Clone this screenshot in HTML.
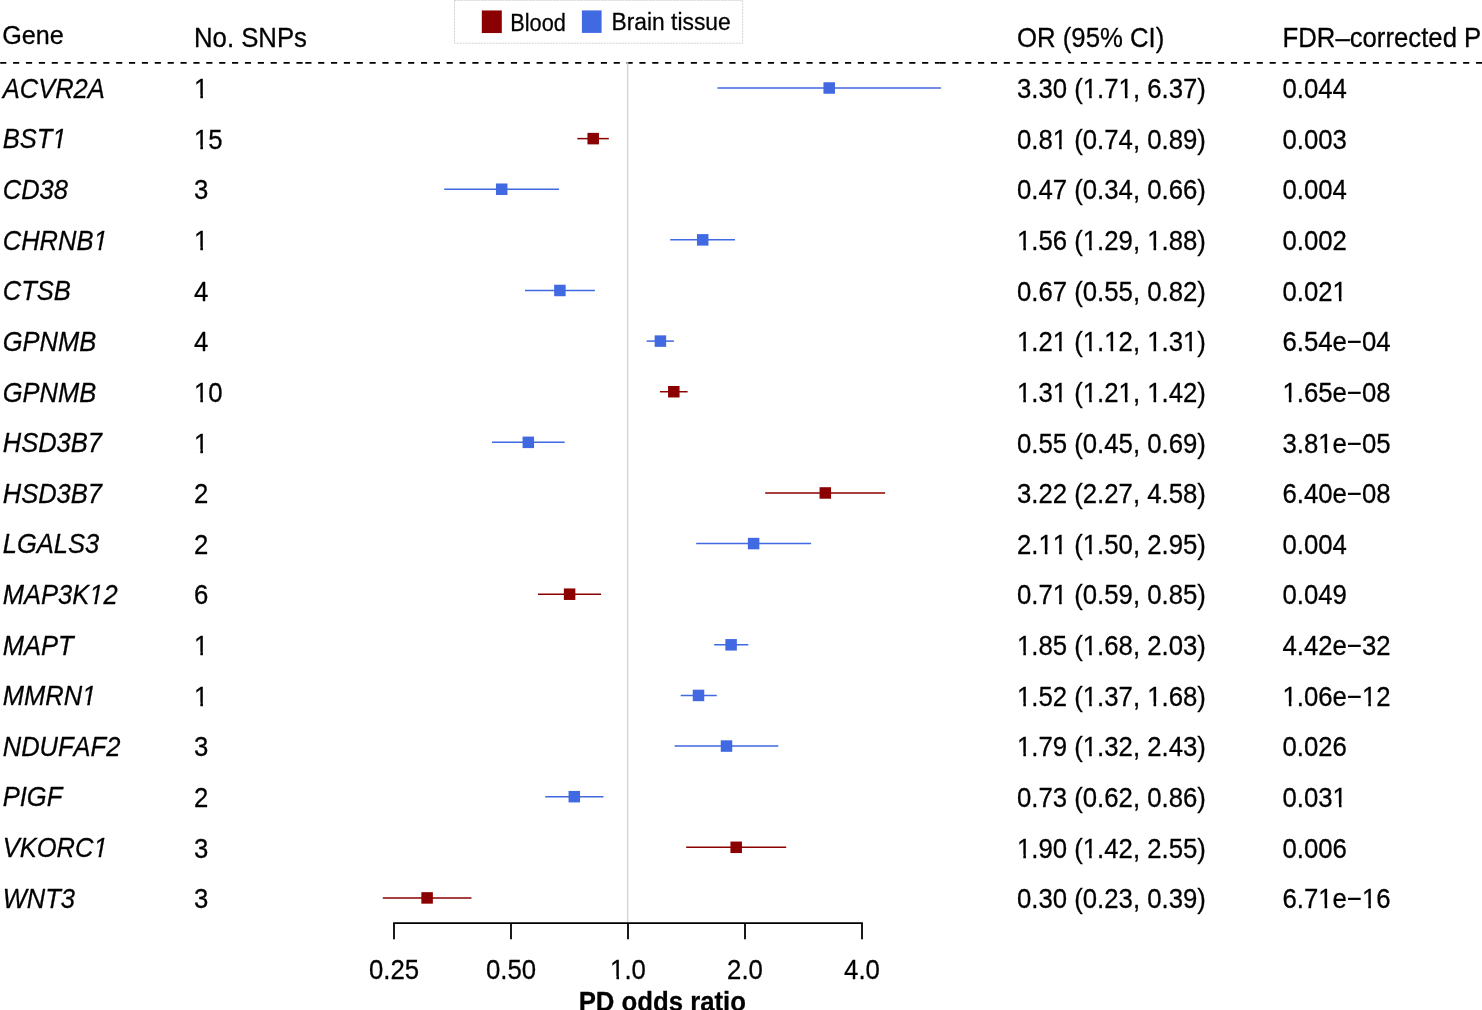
<!DOCTYPE html><html><head><meta charset="utf-8"><style>
html,body{margin:0;padding:0;background:#fff;width:1482px;height:1010px;overflow:hidden}
svg{display:block}
text{font-family:"Liberation Sans",sans-serif;fill:#000;font-kerning:none}
.tx{opacity:0.999}
.tx text{stroke:#000;stroke-width:0.28px;stroke-linejoin:round}
.t{font-size:26px}
.i{font-size:26px;font-style:italic}
.lg{font-size:23.5px}
.b{font-size:26px;font-weight:bold}
</style></head><body>
<svg width="1482" height="1010" viewBox="0 0 1482 1010">
<rect x="0" y="0" width="1482" height="1010" fill="#fff"/>
<rect x="454.5" y="0.4" width="288.2" height="42.8" fill="none" stroke="#d2d2d2" stroke-width="1" stroke-dasharray="2 1"/>
<rect x="481.8" y="10.45" width="20" height="22.6" fill="#8B0000"/>
<rect x="581.9" y="10.4" width="19.7" height="22.5" fill="#4169E1"/>
<line x1="0.20" y1="62.85" x2="305.30" y2="62.85" stroke="#000" stroke-width="1.9" stroke-dasharray="6.15 6.73"/>
<line x1="305.30" y1="62.85" x2="939.50" y2="62.85" stroke="#000" stroke-width="1.9" stroke-dasharray="6.15 6.70"/>
<line x1="939.50" y1="62.85" x2="1205.10" y2="62.85" stroke="#000" stroke-width="1.9" stroke-dasharray="6.15 6.70"/>
<line x1="1205.10" y1="62.85" x2="1482.00" y2="62.85" stroke="#000" stroke-width="1.9" stroke-dasharray="6.15 6.75"/>
<line x1="627.7" y1="62" x2="627.7" y2="922.3" stroke="#cecece" stroke-width="1.2"/>
<line x1="717.50" y1="88.00" x2="940.90" y2="88.00" stroke="#4169E1" stroke-width="1.50"/>
<rect x="823.45" y="82.25" width="11.50" height="11.50" fill="#4169E1"/>
<line x1="577.30" y1="138.62" x2="608.80" y2="138.62" stroke="#8B0000" stroke-width="1.50"/>
<rect x="587.45" y="132.87" width="11.50" height="11.50" fill="#8B0000"/>
<line x1="444.20" y1="189.24" x2="559.00" y2="189.24" stroke="#4169E1" stroke-width="1.50"/>
<rect x="495.95" y="183.49" width="11.50" height="11.50" fill="#4169E1"/>
<line x1="670.20" y1="239.86" x2="735.00" y2="239.86" stroke="#4169E1" stroke-width="1.50"/>
<rect x="696.95" y="234.11" width="11.50" height="11.50" fill="#4169E1"/>
<line x1="525.00" y1="290.48" x2="594.90" y2="290.48" stroke="#4169E1" stroke-width="1.50"/>
<rect x="554.15" y="284.73" width="11.50" height="11.50" fill="#4169E1"/>
<line x1="646.60" y1="341.10" x2="673.90" y2="341.10" stroke="#4169E1" stroke-width="1.50"/>
<rect x="654.65" y="335.35" width="11.50" height="11.50" fill="#4169E1"/>
<line x1="659.90" y1="391.72" x2="687.60" y2="391.72" stroke="#8B0000" stroke-width="1.50"/>
<rect x="668.05" y="385.97" width="11.50" height="11.50" fill="#8B0000"/>
<line x1="492.00" y1="442.34" x2="564.70" y2="442.34" stroke="#4169E1" stroke-width="1.50"/>
<rect x="522.55" y="436.59" width="11.50" height="11.50" fill="#4169E1"/>
<line x1="765.20" y1="492.96" x2="885.10" y2="492.96" stroke="#8B0000" stroke-width="1.50"/>
<rect x="819.55" y="487.21" width="11.50" height="11.50" fill="#8B0000"/>
<line x1="696.20" y1="543.58" x2="811.10" y2="543.58" stroke="#4169E1" stroke-width="1.50"/>
<rect x="747.85" y="537.83" width="11.50" height="11.50" fill="#4169E1"/>
<line x1="538.00" y1="594.20" x2="601.10" y2="594.20" stroke="#8B0000" stroke-width="1.50"/>
<rect x="563.85" y="588.45" width="11.50" height="11.50" fill="#8B0000"/>
<line x1="714.20" y1="644.82" x2="748.30" y2="644.82" stroke="#4169E1" stroke-width="1.50"/>
<rect x="725.35" y="639.07" width="11.50" height="11.50" fill="#4169E1"/>
<line x1="680.70" y1="695.44" x2="716.75" y2="695.44" stroke="#4169E1" stroke-width="1.50"/>
<rect x="692.75" y="689.69" width="11.50" height="11.50" fill="#4169E1"/>
<line x1="674.60" y1="746.06" x2="778.30" y2="746.06" stroke="#4169E1" stroke-width="1.50"/>
<rect x="720.75" y="740.31" width="11.50" height="11.50" fill="#4169E1"/>
<line x1="545.20" y1="796.68" x2="603.50" y2="796.68" stroke="#4169E1" stroke-width="1.50"/>
<rect x="568.55" y="790.93" width="11.50" height="11.50" fill="#4169E1"/>
<line x1="686.20" y1="847.30" x2="786.20" y2="847.30" stroke="#8B0000" stroke-width="1.50"/>
<rect x="730.45" y="841.55" width="11.50" height="11.50" fill="#8B0000"/>
<line x1="382.80" y1="897.92" x2="471.50" y2="897.92" stroke="#8B0000" stroke-width="1.50"/>
<rect x="421.35" y="892.17" width="11.50" height="11.50" fill="#8B0000"/>
<line x1="394.00" y1="923.20" x2="862.00" y2="923.20" stroke="#000" stroke-width="1.8" stroke-linecap="square"/>
<line x1="394.00" y1="923.20" x2="394.00" y2="939.2" stroke="#000" stroke-width="1.8"/>
<line x1="511.00" y1="923.20" x2="511.00" y2="939.2" stroke="#000" stroke-width="1.8"/>
<line x1="628.00" y1="923.20" x2="628.00" y2="939.2" stroke="#000" stroke-width="1.8"/>
<line x1="745.00" y1="923.20" x2="745.00" y2="939.2" stroke="#000" stroke-width="1.8"/>
<line x1="862.00" y1="923.20" x2="862.00" y2="939.2" stroke="#000" stroke-width="1.8"/>
<g class="tx">
<text class="lg" transform="translate(510.31 30.60) scale(0.9250 0.9850)">Blood</text>
<text class="lg" transform="translate(611.53 30.40) scale(0.9710 0.9850)">Brain tissue</text>
<text class="t" transform="translate(2.23 44.10) scale(0.9680 1.0000)">Gene</text>
<text class="t" transform="translate(194.00 46.85) scale(0.9900 1.0436)">No. SNPs</text>
<text class="t" transform="translate(1017.00 46.85) scale(0.9900 1.0436)">OR (95% CI)</text>
<text class="t" transform="translate(1282.50 46.85) scale(0.9900 1.0436)">FDR–corrected P</text>
<text class="i" transform="translate(2.70 97.80) scale(0.9820 1.0436)">ACVR2A</text>
<text class="t" transform="translate(194.00 98.25) scale(0.9900 1.0436)">1</text>
<text class="t" transform="translate(1017.00 98.25) scale(0.9900 1.0436)">3.30 (1.71, 6.37)</text>
<text class="t" transform="translate(1282.50 98.25) scale(0.9900 1.0436)">0.044</text>
<text class="i" transform="translate(2.70 148.42) scale(0.9820 1.0436)">BST1</text>
<text class="t" transform="translate(194.00 148.87) scale(0.9900 1.0436)">15</text>
<text class="t" transform="translate(1017.00 148.87) scale(0.9900 1.0436)">0.81 (0.74, 0.89)</text>
<text class="t" transform="translate(1282.50 148.87) scale(0.9900 1.0436)">0.003</text>
<text class="i" transform="translate(2.70 199.04) scale(0.9820 1.0436)">CD38</text>
<text class="t" transform="translate(194.00 199.49) scale(0.9900 1.0436)">3</text>
<text class="t" transform="translate(1017.00 199.49) scale(0.9900 1.0436)">0.47 (0.34, 0.66)</text>
<text class="t" transform="translate(1282.50 199.49) scale(0.9900 1.0436)">0.004</text>
<text class="i" transform="translate(2.70 249.66) scale(0.9820 1.0436)">CHRNB1</text>
<text class="t" transform="translate(194.00 250.11) scale(0.9900 1.0436)">1</text>
<text class="t" transform="translate(1017.00 250.11) scale(0.9900 1.0436)">1.56 (1.29, 1.88)</text>
<text class="t" transform="translate(1282.50 250.11) scale(0.9900 1.0436)">0.002</text>
<text class="i" transform="translate(2.70 300.28) scale(0.9820 1.0436)">CTSB</text>
<text class="t" transform="translate(194.00 300.73) scale(0.9900 1.0436)">4</text>
<text class="t" transform="translate(1017.00 300.73) scale(0.9900 1.0436)">0.67 (0.55, 0.82)</text>
<text class="t" transform="translate(1282.50 300.73) scale(0.9900 1.0436)">0.021</text>
<text class="i" transform="translate(2.70 350.90) scale(0.9820 1.0436)">GPNMB</text>
<text class="t" transform="translate(194.00 351.35) scale(0.9900 1.0436)">4</text>
<text class="t" transform="translate(1017.00 351.35) scale(0.9900 1.0436)">1.21 (1.12, 1.31)</text>
<text class="t" transform="translate(1282.50 351.35) scale(0.9900 1.0436)">6.54e−04</text>
<text class="i" transform="translate(2.70 401.52) scale(0.9820 1.0436)">GPNMB</text>
<text class="t" transform="translate(194.00 401.97) scale(0.9900 1.0436)">10</text>
<text class="t" transform="translate(1017.00 401.97) scale(0.9900 1.0436)">1.31 (1.21, 1.42)</text>
<text class="t" transform="translate(1282.50 401.97) scale(0.9900 1.0436)">1.65e−08</text>
<text class="i" transform="translate(2.70 452.14) scale(0.9820 1.0436)">HSD3B7</text>
<text class="t" transform="translate(194.00 452.59) scale(0.9900 1.0436)">1</text>
<text class="t" transform="translate(1017.00 452.59) scale(0.9900 1.0436)">0.55 (0.45, 0.69)</text>
<text class="t" transform="translate(1282.50 452.59) scale(0.9900 1.0436)">3.81e−05</text>
<text class="i" transform="translate(2.70 502.76) scale(0.9820 1.0436)">HSD3B7</text>
<text class="t" transform="translate(194.00 503.21) scale(0.9900 1.0436)">2</text>
<text class="t" transform="translate(1017.00 503.21) scale(0.9900 1.0436)">3.22 (2.27, 4.58)</text>
<text class="t" transform="translate(1282.50 503.21) scale(0.9900 1.0436)">6.40e−08</text>
<text class="i" transform="translate(2.70 553.38) scale(0.9820 1.0436)">LGALS3</text>
<text class="t" transform="translate(194.00 553.83) scale(0.9900 1.0436)">2</text>
<text class="t" transform="translate(1017.00 553.83) scale(0.9900 1.0436)">2.11 (1.50, 2.95)</text>
<text class="t" transform="translate(1282.50 553.83) scale(0.9900 1.0436)">0.004</text>
<text class="i" transform="translate(2.70 604.00) scale(0.9820 1.0436)">MAP3K12</text>
<text class="t" transform="translate(194.00 604.45) scale(0.9900 1.0436)">6</text>
<text class="t" transform="translate(1017.00 604.45) scale(0.9900 1.0436)">0.71 (0.59, 0.85)</text>
<text class="t" transform="translate(1282.50 604.45) scale(0.9900 1.0436)">0.049</text>
<text class="i" transform="translate(2.70 654.62) scale(0.9820 1.0436)">MAPT</text>
<text class="t" transform="translate(194.00 655.07) scale(0.9900 1.0436)">1</text>
<text class="t" transform="translate(1017.00 655.07) scale(0.9900 1.0436)">1.85 (1.68, 2.03)</text>
<text class="t" transform="translate(1282.50 655.07) scale(0.9900 1.0436)">4.42e−32</text>
<text class="i" transform="translate(2.70 705.24) scale(0.9820 1.0436)">MMRN1</text>
<text class="t" transform="translate(194.00 705.69) scale(0.9900 1.0436)">1</text>
<text class="t" transform="translate(1017.00 705.69) scale(0.9900 1.0436)">1.52 (1.37, 1.68)</text>
<text class="t" transform="translate(1282.50 705.69) scale(0.9900 1.0436)">1.06e−12</text>
<text class="i" transform="translate(2.70 755.86) scale(0.9820 1.0436)">NDUFAF2</text>
<text class="t" transform="translate(194.00 756.31) scale(0.9900 1.0436)">3</text>
<text class="t" transform="translate(1017.00 756.31) scale(0.9900 1.0436)">1.79 (1.32, 2.43)</text>
<text class="t" transform="translate(1282.50 756.31) scale(0.9900 1.0436)">0.026</text>
<text class="i" transform="translate(2.70 806.48) scale(0.9820 1.0436)">PIGF</text>
<text class="t" transform="translate(194.00 806.93) scale(0.9900 1.0436)">2</text>
<text class="t" transform="translate(1017.00 806.93) scale(0.9900 1.0436)">0.73 (0.62, 0.86)</text>
<text class="t" transform="translate(1282.50 806.93) scale(0.9900 1.0436)">0.031</text>
<text class="i" transform="translate(2.70 857.10) scale(0.9820 1.0436)">VKORC1</text>
<text class="t" transform="translate(194.00 857.55) scale(0.9900 1.0436)">3</text>
<text class="t" transform="translate(1017.00 857.55) scale(0.9900 1.0436)">1.90 (1.42, 2.55)</text>
<text class="t" transform="translate(1282.50 857.55) scale(0.9900 1.0436)">0.006</text>
<text class="i" transform="translate(2.70 907.72) scale(0.9820 1.0436)">WNT3</text>
<text class="t" transform="translate(194.00 908.17) scale(0.9900 1.0436)">3</text>
<text class="t" transform="translate(1017.00 908.17) scale(0.9900 1.0436)">0.30 (0.23, 0.39)</text>
<text class="t" transform="translate(1282.50 908.17) scale(0.9900 1.0436)">6.71e−16</text>
<text class="t" transform="translate(394.00 979.40) scale(0.9900 1.0436)" text-anchor="middle">0.25</text>
<text class="t" transform="translate(511.00 979.40) scale(0.9900 1.0436)" text-anchor="middle">0.50</text>
<text class="t" transform="translate(628.00 979.40) scale(0.9900 1.0436)" text-anchor="middle">1.0</text>
<text class="t" transform="translate(745.00 979.40) scale(0.9900 1.0436)" text-anchor="middle">2.0</text>
<text class="t" transform="translate(862.00 979.40) scale(0.9900 1.0436)" text-anchor="middle">4.0</text>
<text class="b" transform="translate(662.30 1010.70) scale(0.9900 1.0436)" text-anchor="middle">PD odds ratio</text>
</g>
<polygon transform="translate(194.00 98.25) scale(0.9900 1.0436)" points="0.57,1.27 6.41,1.27 6.41,-3.36 0.57,-3.36" fill="#fff"/>
<polygon transform="translate(194.00 98.25) scale(0.9900 1.0436)" points="9.01,1.27 14.60,1.27 14.60,-3.36 9.01,-3.36" fill="#fff"/>
<polygon transform="translate(1017.00 98.25) scale(0.9900 1.0436)" points="67.06,1.27 72.90,1.27 72.90,-3.36 67.06,-3.36" fill="#fff"/>
<polygon transform="translate(1017.00 98.25) scale(0.9900 1.0436)" points="75.50,1.27 81.08,1.27 81.08,-3.36 75.50,-3.36" fill="#fff"/>
<polygon transform="translate(1017.00 98.25) scale(0.9900 1.0436)" points="103.20,1.27 109.04,1.27 109.04,-3.36 103.20,-3.36" fill="#fff"/>
<polygon transform="translate(1017.00 98.25) scale(0.9900 1.0436)" points="111.64,1.27 117.23,1.27 117.23,-3.36 111.64,-3.36" fill="#fff"/>
<polygon transform="translate(2.70 148.42) scale(0.9820 1.0436)" points="49.53,1.27 55.40,1.27 56.30,-3.36 50.44,-3.36" fill="#fff"/>
<polygon transform="translate(2.70 148.42) scale(0.9820 1.0436)" points="58.00,1.27 63.66,1.27 64.57,-3.36 58.90,-3.36" fill="#fff"/>
<polygon transform="translate(194.00 148.87) scale(0.9900 1.0436)" points="0.57,1.27 6.41,1.27 6.41,-3.36 0.57,-3.36" fill="#fff"/>
<polygon transform="translate(194.00 148.87) scale(0.9900 1.0436)" points="9.01,1.27 14.60,1.27 14.60,-3.36 9.01,-3.36" fill="#fff"/>
<polygon transform="translate(1017.00 148.87) scale(0.9900 1.0436)" points="36.71,1.27 42.55,1.27 42.55,-3.36 36.71,-3.36" fill="#fff"/>
<polygon transform="translate(1017.00 148.87) scale(0.9900 1.0436)" points="45.16,1.27 50.74,1.27 50.74,-3.36 45.16,-3.36" fill="#fff"/>
<polygon transform="translate(2.70 249.66) scale(0.9820 1.0436)" points="91.41,1.27 97.28,1.27 98.18,-3.36 92.32,-3.36" fill="#fff"/>
<polygon transform="translate(2.70 249.66) scale(0.9820 1.0436)" points="99.88,1.27 105.54,1.27 106.45,-3.36 100.79,-3.36" fill="#fff"/>
<polygon transform="translate(194.00 250.11) scale(0.9900 1.0436)" points="0.57,1.27 6.41,1.27 6.41,-3.36 0.57,-3.36" fill="#fff"/>
<polygon transform="translate(194.00 250.11) scale(0.9900 1.0436)" points="9.01,1.27 14.60,1.27 14.60,-3.36 9.01,-3.36" fill="#fff"/>
<polygon transform="translate(1017.00 250.11) scale(0.9900 1.0436)" points="0.57,1.27 6.41,1.27 6.41,-3.36 0.57,-3.36" fill="#fff"/>
<polygon transform="translate(1017.00 250.11) scale(0.9900 1.0436)" points="9.01,1.27 14.60,1.27 14.60,-3.36 9.01,-3.36" fill="#fff"/>
<polygon transform="translate(1017.00 250.11) scale(0.9900 1.0436)" points="67.06,1.27 72.90,1.27 72.90,-3.36 67.06,-3.36" fill="#fff"/>
<polygon transform="translate(1017.00 250.11) scale(0.9900 1.0436)" points="75.50,1.27 81.08,1.27 81.08,-3.36 75.50,-3.36" fill="#fff"/>
<polygon transform="translate(1017.00 250.11) scale(0.9900 1.0436)" points="132.11,1.27 137.95,1.27 137.95,-3.36 132.11,-3.36" fill="#fff"/>
<polygon transform="translate(1017.00 250.11) scale(0.9900 1.0436)" points="140.55,1.27 146.14,1.27 146.14,-3.36 140.55,-3.36" fill="#fff"/>
<polygon transform="translate(1282.50 300.73) scale(0.9900 1.0436)" points="51.17,1.27 57.01,1.27 57.01,-3.36 51.17,-3.36" fill="#fff"/>
<polygon transform="translate(1282.50 300.73) scale(0.9900 1.0436)" points="59.62,1.27 65.20,1.27 65.20,-3.36 59.62,-3.36" fill="#fff"/>
<polygon transform="translate(1017.00 351.35) scale(0.9900 1.0436)" points="0.57,1.27 6.41,1.27 6.41,-3.36 0.57,-3.36" fill="#fff"/>
<polygon transform="translate(1017.00 351.35) scale(0.9900 1.0436)" points="9.01,1.27 14.60,1.27 14.60,-3.36 9.01,-3.36" fill="#fff"/>
<polygon transform="translate(1017.00 351.35) scale(0.9900 1.0436)" points="36.71,1.27 42.55,1.27 42.55,-3.36 36.71,-3.36" fill="#fff"/>
<polygon transform="translate(1017.00 351.35) scale(0.9900 1.0436)" points="45.16,1.27 50.74,1.27 50.74,-3.36 45.16,-3.36" fill="#fff"/>
<polygon transform="translate(1017.00 351.35) scale(0.9900 1.0436)" points="67.06,1.27 72.90,1.27 72.90,-3.36 67.06,-3.36" fill="#fff"/>
<polygon transform="translate(1017.00 351.35) scale(0.9900 1.0436)" points="75.50,1.27 81.08,1.27 81.08,-3.36 75.50,-3.36" fill="#fff"/>
<polygon transform="translate(1017.00 351.35) scale(0.9900 1.0436)" points="88.74,1.27 94.58,1.27 94.58,-3.36 88.74,-3.36" fill="#fff"/>
<polygon transform="translate(1017.00 351.35) scale(0.9900 1.0436)" points="97.18,1.27 102.77,1.27 102.77,-3.36 97.18,-3.36" fill="#fff"/>
<polygon transform="translate(1017.00 351.35) scale(0.9900 1.0436)" points="132.11,1.27 137.95,1.27 137.95,-3.36 132.11,-3.36" fill="#fff"/>
<polygon transform="translate(1017.00 351.35) scale(0.9900 1.0436)" points="140.55,1.27 146.14,1.27 146.14,-3.36 140.55,-3.36" fill="#fff"/>
<polygon transform="translate(1017.00 351.35) scale(0.9900 1.0436)" points="168.25,1.27 174.09,1.27 174.09,-3.36 168.25,-3.36" fill="#fff"/>
<polygon transform="translate(1017.00 351.35) scale(0.9900 1.0436)" points="176.69,1.27 182.28,1.27 182.28,-3.36 176.69,-3.36" fill="#fff"/>
<polygon transform="translate(194.00 401.97) scale(0.9900 1.0436)" points="0.57,1.27 6.41,1.27 6.41,-3.36 0.57,-3.36" fill="#fff"/>
<polygon transform="translate(194.00 401.97) scale(0.9900 1.0436)" points="9.01,1.27 14.60,1.27 14.60,-3.36 9.01,-3.36" fill="#fff"/>
<polygon transform="translate(1017.00 401.97) scale(0.9900 1.0436)" points="0.57,1.27 6.41,1.27 6.41,-3.36 0.57,-3.36" fill="#fff"/>
<polygon transform="translate(1017.00 401.97) scale(0.9900 1.0436)" points="9.01,1.27 14.60,1.27 14.60,-3.36 9.01,-3.36" fill="#fff"/>
<polygon transform="translate(1017.00 401.97) scale(0.9900 1.0436)" points="36.71,1.27 42.55,1.27 42.55,-3.36 36.71,-3.36" fill="#fff"/>
<polygon transform="translate(1017.00 401.97) scale(0.9900 1.0436)" points="45.16,1.27 50.74,1.27 50.74,-3.36 45.16,-3.36" fill="#fff"/>
<polygon transform="translate(1017.00 401.97) scale(0.9900 1.0436)" points="67.06,1.27 72.90,1.27 72.90,-3.36 67.06,-3.36" fill="#fff"/>
<polygon transform="translate(1017.00 401.97) scale(0.9900 1.0436)" points="75.50,1.27 81.08,1.27 81.08,-3.36 75.50,-3.36" fill="#fff"/>
<polygon transform="translate(1017.00 401.97) scale(0.9900 1.0436)" points="103.20,1.27 109.04,1.27 109.04,-3.36 103.20,-3.36" fill="#fff"/>
<polygon transform="translate(1017.00 401.97) scale(0.9900 1.0436)" points="111.64,1.27 117.23,1.27 117.23,-3.36 111.64,-3.36" fill="#fff"/>
<polygon transform="translate(1017.00 401.97) scale(0.9900 1.0436)" points="132.11,1.27 137.95,1.27 137.95,-3.36 132.11,-3.36" fill="#fff"/>
<polygon transform="translate(1017.00 401.97) scale(0.9900 1.0436)" points="140.55,1.27 146.14,1.27 146.14,-3.36 140.55,-3.36" fill="#fff"/>
<polygon transform="translate(1282.50 401.97) scale(0.9900 1.0436)" points="0.57,1.27 6.41,1.27 6.41,-3.36 0.57,-3.36" fill="#fff"/>
<polygon transform="translate(1282.50 401.97) scale(0.9900 1.0436)" points="9.01,1.27 14.60,1.27 14.60,-3.36 9.01,-3.36" fill="#fff"/>
<polygon transform="translate(194.00 452.59) scale(0.9900 1.0436)" points="0.57,1.27 6.41,1.27 6.41,-3.36 0.57,-3.36" fill="#fff"/>
<polygon transform="translate(194.00 452.59) scale(0.9900 1.0436)" points="9.01,1.27 14.60,1.27 14.60,-3.36 9.01,-3.36" fill="#fff"/>
<polygon transform="translate(1282.50 452.59) scale(0.9900 1.0436)" points="36.71,1.27 42.55,1.27 42.55,-3.36 36.71,-3.36" fill="#fff"/>
<polygon transform="translate(1282.50 452.59) scale(0.9900 1.0436)" points="45.16,1.27 50.74,1.27 50.74,-3.36 45.16,-3.36" fill="#fff"/>
<polygon transform="translate(1017.00 553.83) scale(0.9900 1.0436)" points="22.25,1.27 28.09,1.27 28.09,-3.36 22.25,-3.36" fill="#fff"/>
<polygon transform="translate(1017.00 553.83) scale(0.9900 1.0436)" points="30.70,1.27 36.28,1.27 36.28,-3.36 30.70,-3.36" fill="#fff"/>
<polygon transform="translate(1017.00 553.83) scale(0.9900 1.0436)" points="36.71,1.27 42.55,1.27 42.55,-3.36 36.71,-3.36" fill="#fff"/>
<polygon transform="translate(1017.00 553.83) scale(0.9900 1.0436)" points="45.16,1.27 50.74,1.27 50.74,-3.36 45.16,-3.36" fill="#fff"/>
<polygon transform="translate(1017.00 553.83) scale(0.9900 1.0436)" points="67.06,1.27 72.90,1.27 72.90,-3.36 67.06,-3.36" fill="#fff"/>
<polygon transform="translate(1017.00 553.83) scale(0.9900 1.0436)" points="75.50,1.27 81.08,1.27 81.08,-3.36 75.50,-3.36" fill="#fff"/>
<polygon transform="translate(2.70 604.00) scale(0.9820 1.0436)" points="87.11,1.27 92.98,1.27 93.88,-3.36 88.02,-3.36" fill="#fff"/>
<polygon transform="translate(2.70 604.00) scale(0.9820 1.0436)" points="95.58,1.27 101.24,1.27 102.15,-3.36 96.48,-3.36" fill="#fff"/>
<polygon transform="translate(1017.00 604.45) scale(0.9900 1.0436)" points="36.71,1.27 42.55,1.27 42.55,-3.36 36.71,-3.36" fill="#fff"/>
<polygon transform="translate(1017.00 604.45) scale(0.9900 1.0436)" points="45.16,1.27 50.74,1.27 50.74,-3.36 45.16,-3.36" fill="#fff"/>
<polygon transform="translate(194.00 655.07) scale(0.9900 1.0436)" points="0.57,1.27 6.41,1.27 6.41,-3.36 0.57,-3.36" fill="#fff"/>
<polygon transform="translate(194.00 655.07) scale(0.9900 1.0436)" points="9.01,1.27 14.60,1.27 14.60,-3.36 9.01,-3.36" fill="#fff"/>
<polygon transform="translate(1017.00 655.07) scale(0.9900 1.0436)" points="0.57,1.27 6.41,1.27 6.41,-3.36 0.57,-3.36" fill="#fff"/>
<polygon transform="translate(1017.00 655.07) scale(0.9900 1.0436)" points="9.01,1.27 14.60,1.27 14.60,-3.36 9.01,-3.36" fill="#fff"/>
<polygon transform="translate(1017.00 655.07) scale(0.9900 1.0436)" points="67.06,1.27 72.90,1.27 72.90,-3.36 67.06,-3.36" fill="#fff"/>
<polygon transform="translate(1017.00 655.07) scale(0.9900 1.0436)" points="75.50,1.27 81.08,1.27 81.08,-3.36 75.50,-3.36" fill="#fff"/>
<polygon transform="translate(2.70 705.24) scale(0.9820 1.0436)" points="79.83,1.27 85.70,1.27 86.60,-3.36 80.74,-3.36" fill="#fff"/>
<polygon transform="translate(2.70 705.24) scale(0.9820 1.0436)" points="88.31,1.27 93.96,1.27 94.87,-3.36 89.21,-3.36" fill="#fff"/>
<polygon transform="translate(194.00 705.69) scale(0.9900 1.0436)" points="0.57,1.27 6.41,1.27 6.41,-3.36 0.57,-3.36" fill="#fff"/>
<polygon transform="translate(194.00 705.69) scale(0.9900 1.0436)" points="9.01,1.27 14.60,1.27 14.60,-3.36 9.01,-3.36" fill="#fff"/>
<polygon transform="translate(1017.00 705.69) scale(0.9900 1.0436)" points="0.57,1.27 6.41,1.27 6.41,-3.36 0.57,-3.36" fill="#fff"/>
<polygon transform="translate(1017.00 705.69) scale(0.9900 1.0436)" points="9.01,1.27 14.60,1.27 14.60,-3.36 9.01,-3.36" fill="#fff"/>
<polygon transform="translate(1017.00 705.69) scale(0.9900 1.0436)" points="67.06,1.27 72.90,1.27 72.90,-3.36 67.06,-3.36" fill="#fff"/>
<polygon transform="translate(1017.00 705.69) scale(0.9900 1.0436)" points="75.50,1.27 81.08,1.27 81.08,-3.36 75.50,-3.36" fill="#fff"/>
<polygon transform="translate(1017.00 705.69) scale(0.9900 1.0436)" points="132.11,1.27 137.95,1.27 137.95,-3.36 132.11,-3.36" fill="#fff"/>
<polygon transform="translate(1017.00 705.69) scale(0.9900 1.0436)" points="140.55,1.27 146.14,1.27 146.14,-3.36 140.55,-3.36" fill="#fff"/>
<polygon transform="translate(1282.50 705.69) scale(0.9900 1.0436)" points="0.57,1.27 6.41,1.27 6.41,-3.36 0.57,-3.36" fill="#fff"/>
<polygon transform="translate(1282.50 705.69) scale(0.9900 1.0436)" points="9.01,1.27 14.60,1.27 14.60,-3.36 9.01,-3.36" fill="#fff"/>
<polygon transform="translate(1282.50 705.69) scale(0.9900 1.0436)" points="80.82,1.27 86.66,1.27 86.66,-3.36 80.82,-3.36" fill="#fff"/>
<polygon transform="translate(1282.50 705.69) scale(0.9900 1.0436)" points="89.26,1.27 94.85,1.27 94.85,-3.36 89.26,-3.36" fill="#fff"/>
<polygon transform="translate(1017.00 756.31) scale(0.9900 1.0436)" points="0.57,1.27 6.41,1.27 6.41,-3.36 0.57,-3.36" fill="#fff"/>
<polygon transform="translate(1017.00 756.31) scale(0.9900 1.0436)" points="9.01,1.27 14.60,1.27 14.60,-3.36 9.01,-3.36" fill="#fff"/>
<polygon transform="translate(1017.00 756.31) scale(0.9900 1.0436)" points="67.06,1.27 72.90,1.27 72.90,-3.36 67.06,-3.36" fill="#fff"/>
<polygon transform="translate(1017.00 756.31) scale(0.9900 1.0436)" points="75.50,1.27 81.08,1.27 81.08,-3.36 75.50,-3.36" fill="#fff"/>
<polygon transform="translate(1282.50 806.93) scale(0.9900 1.0436)" points="51.17,1.27 57.01,1.27 57.01,-3.36 51.17,-3.36" fill="#fff"/>
<polygon transform="translate(1282.50 806.93) scale(0.9900 1.0436)" points="59.62,1.27 65.20,1.27 65.20,-3.36 59.62,-3.36" fill="#fff"/>
<polygon transform="translate(2.70 857.10) scale(0.9820 1.0436)" points="91.42,1.27 97.29,1.27 98.20,-3.36 92.33,-3.36" fill="#fff"/>
<polygon transform="translate(2.70 857.10) scale(0.9820 1.0436)" points="99.90,1.27 105.55,1.27 106.46,-3.36 100.80,-3.36" fill="#fff"/>
<polygon transform="translate(1017.00 857.55) scale(0.9900 1.0436)" points="0.57,1.27 6.41,1.27 6.41,-3.36 0.57,-3.36" fill="#fff"/>
<polygon transform="translate(1017.00 857.55) scale(0.9900 1.0436)" points="9.01,1.27 14.60,1.27 14.60,-3.36 9.01,-3.36" fill="#fff"/>
<polygon transform="translate(1017.00 857.55) scale(0.9900 1.0436)" points="67.06,1.27 72.90,1.27 72.90,-3.36 67.06,-3.36" fill="#fff"/>
<polygon transform="translate(1017.00 857.55) scale(0.9900 1.0436)" points="75.50,1.27 81.08,1.27 81.08,-3.36 75.50,-3.36" fill="#fff"/>
<polygon transform="translate(1282.50 908.17) scale(0.9900 1.0436)" points="36.71,1.27 42.55,1.27 42.55,-3.36 36.71,-3.36" fill="#fff"/>
<polygon transform="translate(1282.50 908.17) scale(0.9900 1.0436)" points="45.16,1.27 50.74,1.27 50.74,-3.36 45.16,-3.36" fill="#fff"/>
<polygon transform="translate(1282.50 908.17) scale(0.9900 1.0436)" points="80.82,1.27 86.66,1.27 86.66,-3.36 80.82,-3.36" fill="#fff"/>
<polygon transform="translate(1282.50 908.17) scale(0.9900 1.0436)" points="89.26,1.27 94.85,1.27 94.85,-3.36 89.26,-3.36" fill="#fff"/>
<polygon transform="translate(628.00 979.40) scale(0.9900 1.0436)" points="-17.50,1.27 -11.66,1.27 -11.66,-3.36 -17.50,-3.36" fill="#fff"/>
<polygon transform="translate(628.00 979.40) scale(0.9900 1.0436)" points="-9.06,1.27 -3.47,1.27 -3.47,-3.36 -9.06,-3.36" fill="#fff"/>
</svg></body></html>
